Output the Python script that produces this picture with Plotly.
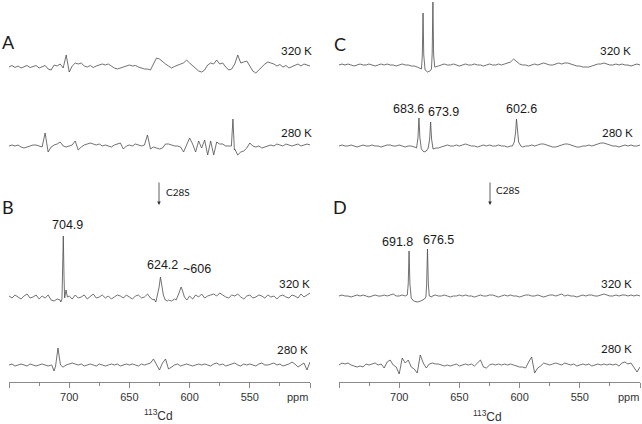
import plotly.graph_objects as go

# ---------------- data (ppm scale, intensities, px units up) ----
GRID_PPM = [750 - 2.5 * i for i in range(101)]

a320_vals = [0, 1.5, -0.5, 1, -1, 0.5, 1.5, -0.5, 0.5, 1.5, -1, 0.5, 1.5,
             -2, -3, 2, 1, 3, -1, 12, -5, 1, 4, 3, 4, 1,
             0, 1.5, -0.5, 1, 2, 3, 2,
             3, 1, -1, -2, -1, 0.5, 1,
             2, 1, 1.5, 0, -1, -2, -2,
             -3, 3, 9, 8, 5, 3, 1, -1, 0.5,
             2, 3, 4, 7, 4, 1, -2, -4, -5, -3,
             2, 4, 3, 7, 3, 4, 0, -3, -2, 3, 12, 4, 5, 6, 1,
             -4, -6, -3, 1, 3, 5, 4, 3, 1, 2.5, 0, 1.5, -1, 0.5, 2, 3, 1, 3, 2, 1]
a320_ins_ppm = []
a320_ins_val = []

a280_vals = [1, 2, 1, 2, 0, -1, 0, 1, 2, 2, 1,
             0, 14, -5, 0, 2, 3, 5, 1, 0, 1, 2, 6, -3, 0,
             2, 3, 4, 3, 2, 3, 1, 2, 1, 0, 2, 3, 4,
             -2, 1, 2, 1, 3, 2, 1, 2, 12, -2, 0, -1, -2, -1,
             3, 3, 2, 1, 1, 0, -5, 2,
             9, 3, -5, 6, -1, 7, -8, 6, -8, 5, 3, 3, 1, 1,
             28, -2, -8, -5, -4, -1, 4, 1, 0, 1, -1, 0, 1,
             2, 1, 3, 2, 1, 3, 2, 1, 2, 3, 1, 2, 3, 2]
a280_ins_ppm = [565.3, 564.0, 562.8]
a280_ins_val = [1, 28, -3]

c320_vals = [0, 1, 0, 1, 0, -1, 0, 1, 0, 0, 1, 0, -1, 0, 1, 0, 1, 0, 0, -1, 0, 1, 0, 0, -1, -1,
             -2, -3, 0, 0, 0, 0, -2,
             -1, 0, 1, 0, 0, 1, 0, -1, 0, 1, 0, 0, 1, 0, 0, -1, 0, 1, 0, 0, 1, 0, 1,
             2, 3, 6, 3, 1,
             0, 0, -1, 0, 1, 0, 1, 2, 1, 0, 0, 1, 2, 1, 2, 2, 1, 0, -1, -1,
             -2, -2, -2, -1, 0, 1, 1, 2, 1, 0, 0, 1, 0, 1, 0, 0, -1, 0, 1, 0]
c320_ins_ppm = [683, 681.5, 680.8, 680.2, 679.6, 678.5, 676.5, 674.5, 673.2, 672.6, 672.0, 671.4, 670.5]
c320_ins_val = [-3, -4, 10, 52, 10, -5, -7, -6, -4, 12, 63, 10, -2]

c280_vals = [0, 1, 0, 0, 1, 0, -1, 0, 1, 0, 0, 1, 0, 0, -1, 0, 1, 1, 0, 0, 1, 0, -1, 0, 0, -1,
             0, 0, 0, 0, 0, 0, 0,
             -2, -1, 0, 1, 0, 0, 1, 0, 1, 2, 1, 0, 0, -1, 0, 1, 0, 1, 0, 0, 1, 0, 0, -1, 0,
             0, 0, 0,
             -1, 0, 0, 1, 0, 1, 2, 2, 1, 0, -1, -1, 0, 1, 2, 2, 1, 0, -1, -1,
             0, 0, 1, 0, 1, 2, 3, 3, 2, 1, 0, 0, -1, 0, 1, 0, 1, 0, 0, 1]
c280_ins_ppm = [687, 685.6, 684.4, 683.6, 682.8, 681.6, 679.5, 677.5, 675.9, 674.7, 673.9, 673.1, 671.9, 669.5,
                606, 604.4, 603.3, 602.6, 601.9, 600.8, 599]
c280_ins_val = [-1, -2, 8, 28, 8, -3, -6, -5, -2, 7, 24, 7, -3, -2,
                0, 4, 14, 27, 14, 4, 0]

b320_vals = [1, -1, 2, 0, -2, 1, 3, -1, 0, 2, -2, 1, -1, 2, -3, -4, -2, -3,
             0, 0,
             1, -2, 2, -1, 0, 2, -2, 1, 3, -1, 0, 2, -1, 1, -2, 0, 2, 1, -1, 2, 0, -2, 1, 2, -1, 0, 3, -1, -3,
             0, 0, 0, 0,
             -3, -4, -2,
             0, 0, 0, 0,
             1, -2, 2, 0, 3, -1, 1, 2, 3, 1, 4, 2, 0, -1, 2, 1, 3, 0, -2, 1,
             2, -1, 0, 2, 1, -1, 2, 0, 1, -2, 1, 2, 0, -1, 2, 1, -1, 3, 0, 2, 4]
b320_ins_ppm = [707, 706, 705.5, 704.9, 704.3, 703.8, 702.6, 701.5,
                629.5, 628, 626.6, 625.3, 624.2, 623.1, 621.8, 620.2, 618.5,
                611.2, 609.4, 608.2, 607, 605.8, 604.3, 602.3]
b320_ins_val = [-5, -2, 20, 61, 20, -1, 7, 0,
                -2, -5, 2, 10, 20, 10, 2, -3, -4,
                -3, 2, 7, 10, 6, 0, -3]

b280_vals = [0, 1, -1, 0, 1, 0, -1, 1, 0, -1, 0, 1, 0, -1, 0,
             0, 0, 0,
             -2, 0, 1, 2, 1, 0, 1, -1, 0, 1, 0, -1, 1, 0, -1, 0, 1, 0, 1, -1, 0, 1, 0, 1, 0, -1, 1, 0, 1, 2,
             6, 0, -5, 2, 6, -4, -2,
             0, 1, -1, 0, 1, 0, -1, 0, 1, 0, 1, 0, -1, 1, 2, 0, 1, -1, 0, 1, 2, 0, -1, 1, 0, 1, 0, -1,
             1, 2, 0, 0, 1, 2, 0, 1, -1, 0, 1, 3, 1, -2, 0, 2, -5, 3]
b280_ins_ppm = [714.5, 712.6, 711.3, 710.2, 709.3, 708.4, 707.2, 705.3]
b280_ins_val = [0, -6, -1, 9, 17, 9, 0, -2]

d320_vals = [0, 1, 0, 0, -1, 0, 1, 0, 1, 0, -1, 0, 1, 0, 0, 1, 0, 1, 2, 0, 0, 1,
             0, 0, 0, 0, 0, 0, 0, 0, 0,
             0, 1, 0, 0, 1, 0, -1, 0, 0, 1, 0, 1, 0, 0, -1, 0, 1, 0, 0, 1, 1, 0, -1, 0, 1, 0, 1, 0, 0, -1,
             0, 1, 1, 0, 0, 1, 0, -1, 0, 1, 1, 0, 1, 2, 0, 1, 0, 0, -1, 0, 1, 0, 1, 1, 0, 0, 1, 2, 1, 0,
             0, 1, 0, 1, 1, 0, 1, 0, 1, 0]
d320_ins_ppm = [695, 693.3, 692.5, 691.8, 691.1, 690, 688, 685, 682, 679, 677.8, 677.2, 676.5, 675.8, 675.0, 673]
d320_ins_val = [0, 1, 12, 45, 12, -2, -5, -6, -5, -3, -1, 12, 47, 12, 0, -1]

d280_vals = [0, 2, 1, 2, 0, -1, -2, -1, -2, 1, 0, 1, 2, 0, 1,
             -3, 3, 5, 0, -2, -9, 7, 2, 5, -2, -4, -8, 10, 2, -3,
             1, 2, 1, 1, 0, -1, 0, -1, 0, 1, -1, 0, 1, 0, 1, -1, 2,
             5, -2, -3, 0, 1, 0, 1, 0, 1, 0, 1, 0, -1, -2, -2, -3,
             3, 8, -8, -3, -1, 2, 1, 0, 1, 2, 1, 0, 2,
             1, 0, 1, -1, 0, 1, 0, 1, -1, 0, 1, 0, 1, 0, 1, 0, 1, -1, 2, 3, 1, 2, -3, -7, -2]
d280_ins_ppm = []
d280_ins_val = []

tick_vals = [750, 700, 650, 600, 550, 500]
tick_text = ["", "700", "650", "600", "550", ""]
minor_vals = [725, 675, 625, 575, 525]

# ---------------- layout constants (pixel positions) ----------------
W, H = 642, 424
AXIS_Y = 382
LEFT_DOM = (9, 310)
RIGHT_DOM = (339, 640)
LINE_COLOR = "#4d4d4d"
AX_COLOR = "#8a8a8a"


def merge(vals, ins_ppm, ins_val):
    pts = list(zip(GRID_PPM, vals))
    if ins_ppm:
        groups, cur = [], [ins_ppm[0]]
        for a, b in zip(ins_ppm[:-1], ins_ppm[1:]):
            if a - b > 4:
                groups.append(cur)
                cur = [b]
            else:
                cur.append(b)
        groups.append(cur)
        spans = [(min(g), max(g)) for g in groups]
        pts = [p for p in pts if not any(lo < p[0] < hi for lo, hi in spans)]
        pts += list(zip(ins_ppm, ins_val))
    pts.sort(key=lambda p: -p[0])
    return [p[0] for p in pts], [p[1] for p in pts]


spectra = [
    ("x", a320_vals, a320_ins_ppm, a320_ins_val, 67),
    ("x", a280_vals, a280_ins_ppm, a280_ins_val, 147),
    ("x", b320_vals, b320_ins_ppm, b320_ins_val, 297),
    ("x", b280_vals, b280_ins_ppm, b280_ins_val, 365),
    ("x2", c320_vals, c320_ins_ppm, c320_ins_val, 65),
    ("x2", c280_vals, c280_ins_ppm, c280_ins_val, 146),
    ("x2", d320_vals, d320_ins_ppm, d320_ins_val, 296),
    ("x2", d280_vals, d280_ins_ppm, d280_ins_val, 365),
]

fig = go.Figure()
for xa, vals, ip, iv, base in spectra:
    xs, ys = merge(vals, ip, iv)
    fig.add_trace(go.Scatter(x=xs, y=[base - v for v in ys], xaxis=xa, yaxis="y",
                             mode="lines", line=dict(color=LINE_COLOR, width=0.8),
                             hoverinfo="skip", showlegend=False))


def P(px, py):
    return px / W, 1 - py / H


annots = []


def txt(s, px, py, size, family, color="#1a1a1a"):
    x, y = P(px, py)
    annots.append(dict(text=s, x=x, y=y, xref="paper", yref="paper", showarrow=False,
                       xanchor="center", yanchor="middle",
                       font=dict(size=size, family=family, color=color)))


SANS = "Liberation Sans, Arial, sans-serif"
CAL = "Lato, Carlito, sans-serif"

# panel letters
txt("A", 8, 42, 18, CAL)
txt("B", 8, 207, 18, CAL)
txt("C", 340, 44, 18, CAL)
txt("D", 340, 207, 18, CAL)
# temperatures
for s, px, py in [("320 K", 296, 51), ("280 K", 296, 132), ("320 K", 294, 283), ("280 K", 292, 349),
                  ("320 K", 615, 51), ("280 K", 617, 132), ("320 K", 616, 283), ("280 K", 616, 348)]:
    txt(s, px, py, 11.5, CAL)
# peak labels
for s, px, py in [("704.9", 67, 225), ("624.2", 163, 265), ("~606", 197, 269),
                  ("683.6", 408, 109), ("673.9", 443, 112), ("602.6", 521, 109),
                  ("691.8", 397, 242), ("676.5", 438, 240)]:
    txt(s, px, py, 12.5, SANS)
# C28S arrows
for ax_px, tx_px, ty in [(159, 178, 192), (490, 508, 190)]:
    hx, hy = P(ax_px, 205)
    annots.append(dict(text="", x=hx, y=hy, xref="paper", yref="paper", showarrow=True,
                       ax=0, ay=-24, arrowhead=2, arrowsize=0.9, arrowwidth=0.8,
                       arrowcolor="#333333"))
    txt("C28S", tx_px, ty, 10, CAL)
# ppm and 113Cd
txt("ppm", 297, 397, 11, SANS, "#333333")
txt("ppm", 628, 397, 11, SANS, "#333333")
txt("<sup>113</sup>Cd", 158, 415, 12, SANS, "#333333")
txt("<sup>113</sup>Cd", 487, 416, 12, SANS, "#333333")

axis_common = dict(range=[750, 500], anchor="free", position=(H - AXIS_Y) / H,
                   showline=True, linecolor=AX_COLOR, linewidth=1.3,
                   ticks="outside", ticklen=5, tickwidth=1, tickcolor=AX_COLOR,
                   tickmode="array", tickvals=tick_vals, ticktext=tick_text,
                   minor=dict(tickmode="array", tickvals=minor_vals, ticks="outside",
                              ticklen=3, tickwidth=1, tickcolor=AX_COLOR, showgrid=False),
                   showgrid=False, zeroline=False,
                   tickfont=dict(size=11, family=SANS, color="#333333"))

fig.update_layout(
    width=W, height=H, margin=dict(l=0, r=0, t=0, b=0),
    paper_bgcolor="white", plot_bgcolor="white", showlegend=False,
    xaxis=dict(domain=[LEFT_DOM[0] / W, LEFT_DOM[1] / W], **axis_common),
    xaxis2=dict(domain=[RIGHT_DOM[0] / W, RIGHT_DOM[1] / W], **axis_common),
    yaxis=dict(domain=[0, 1], range=[H, 0], visible=False, fixedrange=True),
    annotations=annots,
)

fig.write_html("out.html")
